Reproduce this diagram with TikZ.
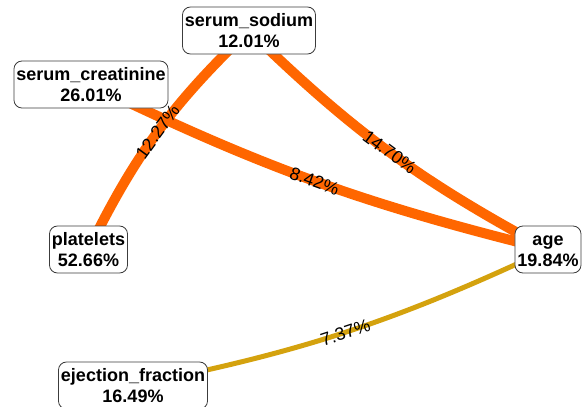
\documentclass[tikz,border=0pt]{standalone}
\usepackage{fontspec}
\setmainfont{Liberation Sans}
\usepackage{tikz}
\usetikzlibrary{backgrounds}
\definecolor{corrOrange}{HTML}{FF6600}
\definecolor{corrGold}{HTML}{D4A20E}
\definecolor{boxGray}{HTML}{3C3C3C}

\begin{document}
\begin{tikzpicture}[x=1pt, y=1pt,
  feat/.style={draw=boxGray, line width=0.8pt, fill=white, rounded corners=8pt,
    align=center, inner xsep=2.5pt, inner ysep=0pt, minimum height=47pt,
    font=\fontsize{18}{21.6}\selectfont\bfseries},
  strong/.style={draw=corrOrange, line width=10pt},
  weak/.style={draw=corrGold, line width=5pt},
  pct/.style={font=\fontsize{18}{18}\selectfont, sloped, midway, inner sep=0pt}]
  \useasboundingbox (0,0) rectangle (584,-407);

  % features
  \node[feat] (sodium) at (249,-30.5) {serum\_sodium\\12.01\%};
  \node[feat] (creat) at (91,-84.5) {serum\_creatinine\\26.01\%};
  \node[feat] (plat) at (88.5,-249.5) {platelets\\52.66\%};
  \node[feat] (age) at (548,-249.5) {age\vphantom{l}\\19.84\%};
  \node[feat] (eject) at (133,-385.5) {ejection\_fraction\\16.49\%};

  % correlations
  \begin{scope}[on background layer]
    \draw[weak] (eject.center) to[bend right=7] node[pct] {7.37\%} (age.center);
    \draw[strong] (creat.center) to[bend right=6] node[pct] {8.42\%} (age.center);
    \draw[strong] (sodium.center) to[bend right=8] node[pct] {14.70\%} (age.center);
    \draw[strong] (sodium.center) to[bend right=10] node[pct] {12.27\%} (plat.center);
  \end{scope}
\end{tikzpicture}
\end{document}
